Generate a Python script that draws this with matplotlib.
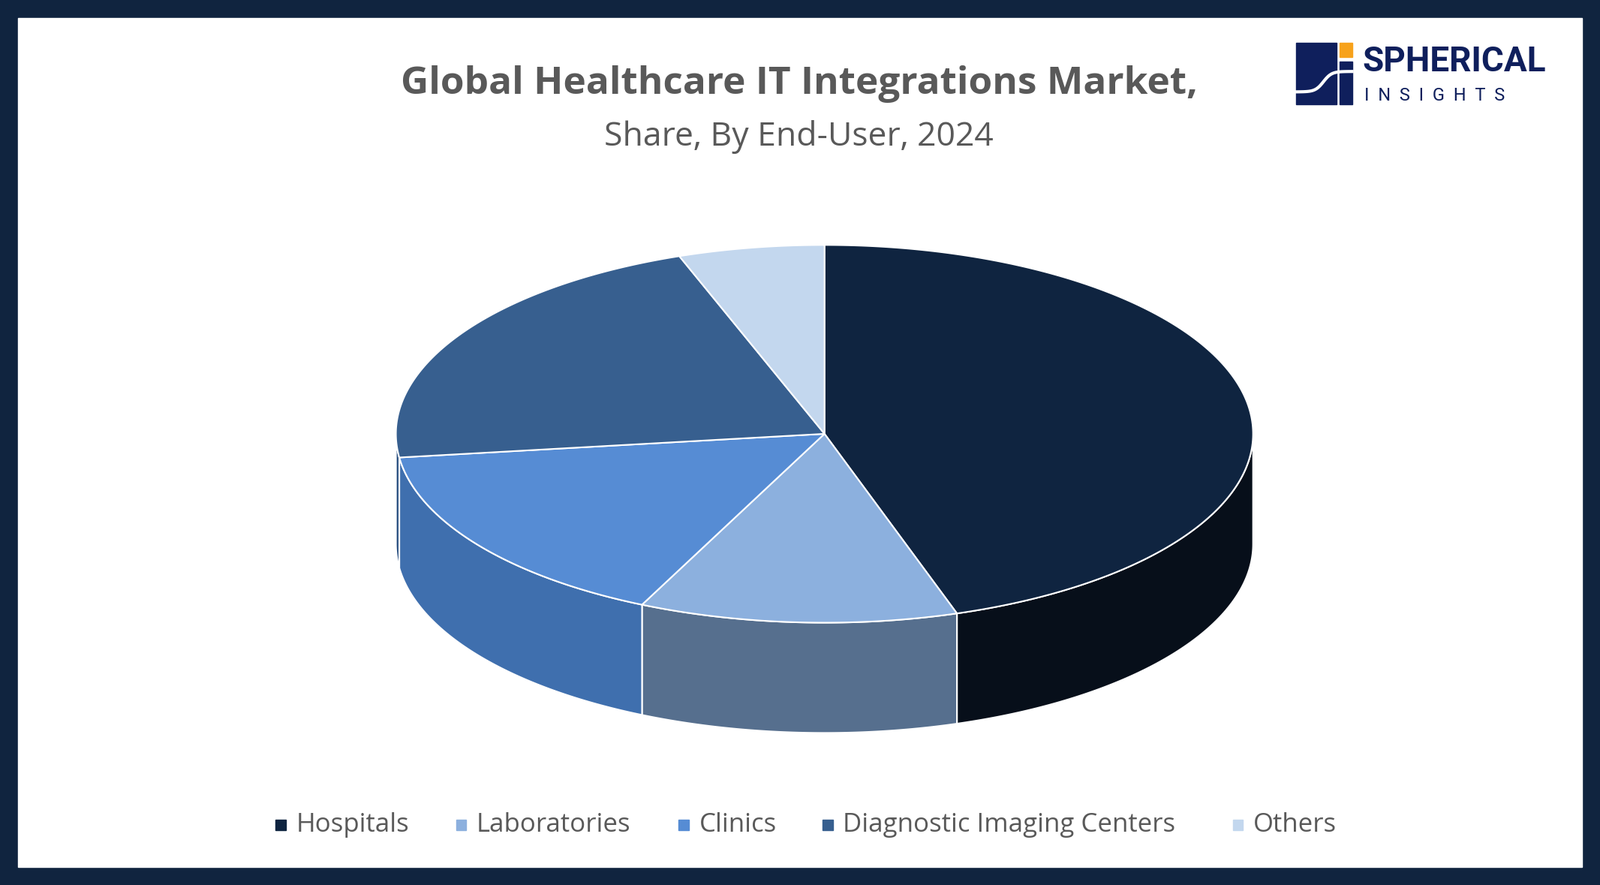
import numpy as np
import matplotlib
matplotlib.use('Agg')
import matplotlib.pyplot as plt
from matplotlib.patches import Rectangle

categories = ["Hospitals", "Laboratories", "Clinics", "Diagnostic Imaging Centers", "Others"]
shares = [45.0, 12.0, 16.0, 21.5, 5.5]
top_colors = ["#0f2440", "#8cb0de", "#568cd4", "#375f8f", "#c3d7ee"]
side_colors = ["#070f1a", "#566f8e", "#3f6fae", "#2f5484", "#9fb6d2"]

W, H = 1568, 867
fig = plt.figure(figsize=(21.32, 11.79), dpi=100)
fig.patch.set_facecolor("#10243f")
ax = fig.add_axes([0, 0, 1, 1])
ax.set_xlim(0, W)
ax.set_ylim(H, 0)
ax.axis("off")
ax.add_patch(Rectangle((18, 18), W - 36, H - 36, color="white", zorder=0))

cx, cy, rx, ry, depth = 808, 425, 420, 185, 108


def pt(t):
    return cx + rx * np.cos(t), cy - ry * np.sin(t)


# wedge angles, clockwise from top
bounds = 90 - np.cumsum([0] + shares) * 3.6
wedges = list(zip(np.radians(bounds[:-1]), np.radians(bounds[1:])))

# side walls (front half only)
for (a0, a1), sc in zip(wedges, side_colors):
    for shift in (0, -2 * np.pi, 2 * np.pi):
        h, l = a0 + shift, a1 + shift
        s0, s1 = max(l, -np.pi), min(h, 0)
        if s1 > s0:
            t = np.linspace(s0, s1, 100)
            x, y = pt(t)
            xs = np.concatenate([x, x[::-1]])
            ys = np.concatenate([y, y[::-1] + depth])
            ax.fill(xs, ys, color=sc, ec="white", lw=1.5, zorder=2)

# top faces
for (a0, a1), tc in zip(wedges, top_colors):
    t = np.linspace(a0, a1, 200)
    x, y = pt(t)
    ax.fill(np.r_[cx, x, cx], np.r_[cy, y, cy], color=tc, ec="white", lw=1.5, zorder=3)

# titles
ax.text(783, 82, "Global Healthcare IT Integrations Market,", ha="center", va="center",
        fontsize=37, fontweight="bold", color="#595959", family="Open Sans")
ax.text(783, 134, "Share, By End-User, 2024", ha="center", va="center",
        fontsize=32, color="#595959", family="Open Sans")

# legend
leg_x = [270, 447, 665, 806, 1208]
for xx, lab, c in zip(leg_x, categories, top_colors):
    ax.add_patch(Rectangle((xx, 803), 10, 10, color=c, zorder=4))
    ax.text(xx + 20, 808, lab, va="center", ha="left", fontsize=25,
            color="#595959", family="Open Sans")

# logo
ax.add_patch(Rectangle((1270, 42), 40, 60, color="#0f1f5c", zorder=4))
ax.add_patch(Rectangle((1313, 42), 12, 14, color="#f7a21b", zorder=4))
ax.add_patch(Rectangle((1313, 60), 12, 42, color="#0f1f5c", zorder=4))
xs = np.linspace(1270, 1325, 50)
ax.plot(xs, 80 - 10 * np.tanh((xs - 1297) / 8), color="white", lw=3, zorder=5)
ax.text(1335, 60, "SPHERICAL", fontsize=33, fontweight="bold", color="#0f1f5c",
        va="center", ha="left", family="Roboto", fontstretch="condensed")
ax.text(1337, 94, "I  N  S  I  G  H  T  S", fontsize=17, color="#0f1f5c",
        va="center", ha="left", family="Roboto")

fig.savefig("out.png", dpi=100, facecolor=fig.get_facecolor())
